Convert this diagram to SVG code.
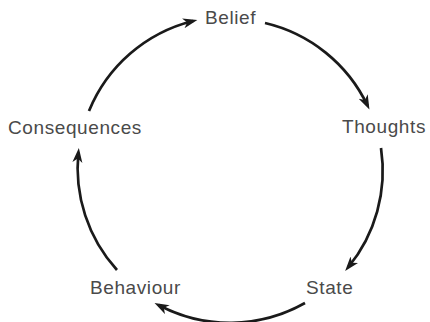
<svg xmlns="http://www.w3.org/2000/svg" width="430" height="322" viewBox="0 0 430 322">
<style>
.lbl{font-family:"Liberation Sans",Arial,sans-serif;font-size:19px;fill:#4a4a4a;letter-spacing:0.6px}
.arc{fill:none;stroke:#1a1a1a;stroke-width:2.7}
</style>
<defs>
<marker id="ah" markerUnits="userSpaceOnUse" markerWidth="16" markerHeight="11" refX="10" refY="5" orient="auto">
<path d="M0,0 L14.5,5 L0,10 L4,5 Z" fill="#1a1a1a"/>
</marker>
</defs>
<rect width="430" height="322" fill="#fff"/>
<g id="connectors">
<path class="arc" d="M89,111 A152,152 0 0 1 193,21" marker-end="url(#ah)"/>
<path class="arc" d="M265,23 A152,152 0 0 1 367.5,105.5" marker-end="url(#ah)"/>
<path class="arc" d="M381,148 A152,152 0 0 1 348,267.5" marker-end="url(#ah)"/>
<path class="arc" d="M305,303 A152,152 0 0 1 158.5,305" marker-end="url(#ah)"/>
<path class="arc" d="M117,270 A152,152 0 0 1 78.4,152.5" marker-end="url(#ah)"/>
</g>
<g id="belief"><text class="lbl" x="205" y="24">Belief</text></g>
<g id="thoughts"><text class="lbl" x="342" y="133">Thoughts</text></g>
<g id="state"><text class="lbl" x="306" y="294">State</text></g>
<g id="behaviour"><text class="lbl" x="90" y="294">Behaviour</text></g>
<g id="consequences"><text class="lbl" x="8" y="134">Consequences</text></g>
</svg>
